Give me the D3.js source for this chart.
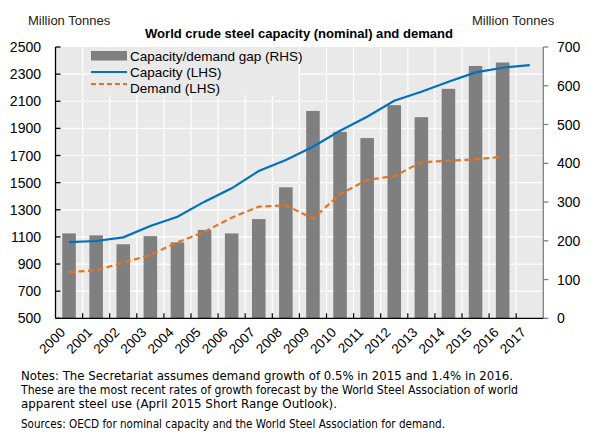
<!DOCTYPE html>
<html><head><meta charset="utf-8">
<script src="https://cdn.jsdelivr.net/npm/d3@7"></script>
<style>body{margin:0;background:#fff}svg{display:block}</style>
</head><body><svg id="c" width="594" height="441"></svg>
<script>
const years = ["2000","2001","2002","2003","2004","2005","2006","2007","2008","2009","2010","2011","2012","2013","2014","2015","2016","2017"];
const gap = [219,214,191,212,196,228,219,256,338,535,481,465,550,519,592,651,660,null];
const capacity = [1062,1070,1097,1180,1249,1360,1458,1586,1667,1765,1883,1986,2104,2170,2244,2313,2347,2367];
const demand = [841,854,910,967,1060,1138,1242,1323,1333,1235,1415,1520,1549,1650,1662,1672,1691,null];
const leftTicks = [500,700,900,1100,1300,1500,1700,1900,2100,2300,2500];
const rightTicks = [0,100,200,300,400,500,600,700];
const title = "World crude steel capacity (nominal) and demand";
const unitLabel = "Million Tonnes";
const legendLabels = ["Capacity/demand gap (RHS)","Capacity (LHS)","Demand (LHS)"];
const notes = ["Notes: The Secretariat assumes demand growth of 0.5% in 2015 and 1.4% in 2016.",
 "These are the most recent rates of growth forecast by the World Steel Association of world",
 "apparent steel use (April 2015 Short Range Outlook)."];
const sources = "Sources: OECD for nominal capacity and the World Steel Association for demand.";

const svg = d3.select("#c");
const L = 55.5, R = 543.3, T = 47, B = 318.3;
const x = d3.scaleBand().domain(years).range([L, R]).paddingInner(0.5).paddingOuter(0.25);
const yL = d3.scaleLinear().domain([500, 2500]).range([B, T]);
const yR = d3.scaleLinear().domain([0, 700]).range([B, T]);
const FONT = "Liberation Sans, Arial, sans-serif";
const cx = y => x(y) + x.bandwidth() / 2;
const boundary = i => L + i * x.step();

// plot background
svg.append("rect").attr("x", L).attr("y", T).attr("width", R - L).attr("height", B - T).attr("fill", "#e9e9e9");

// gridlines
const g = svg.append("g").attr("stroke", "#fff").attr("stroke-width", 1.2);
leftTicks.slice(1, -1).forEach(v => g.append("line").attr("x1", L).attr("x2", R).attr("y1", yL(v)).attr("y2", yL(v)));
d3.range(1, years.length).forEach(i => g.append("line").attr("x1", boundary(i)).attr("x2", boundary(i)).attr("y1", T).attr("y2", B));

// bars
svg.append("g").selectAll("rect").data(years.map((y, i) => ({y, v: gap[i]})).filter(d => d.v != null))
  .join("rect").attr("x", d => x(d.y)).attr("width", x.bandwidth())
  .attr("y", d => yR(d.v)).attr("height", d => yR(0) - yR(d.v)).attr("fill", "#7f7f7f");

// lines
const capLine = d3.line().x((d, i) => cx(years[i])).y(d => yL(d)).defined(d => d != null);
svg.append("path").datum(capacity).attr("d", capLine).attr("fill", "none").attr("stroke", "#0070c0").attr("stroke-width", 2.2);
svg.append("path").datum(demand).attr("d", capLine).attr("fill", "none").attr("stroke", "#e8741e").attr("stroke-width", 2.2).attr("stroke-dasharray", "6,3.5");

// legend
svg.append("rect").attr("x", 90).attr("y", T + 0.5).attr("width", 208).attr("height", 47.5).attr("fill", "#e9e9e9");
const lg = svg.append("g").attr("font-family", FONT).attr("font-size", 13.5).attr("fill", "#000");
lg.append("rect").attr("x", 91).attr("y", 51).attr("width", 36).attr("height", 9.5).attr("fill", "#7f7f7f");
lg.append("line").attr("x1", 91).attr("x2", 127).attr("y1", 72).attr("y2", 72).attr("stroke", "#0070c0").attr("stroke-width", 2.2);
lg.append("line").attr("x1", 91).attr("x2", 127).attr("y1", 84).attr("y2", 84).attr("stroke", "#e8741e").attr("stroke-width", 2).attr("stroke-dasharray", "5,3");
legendLabels.forEach((t, i) => lg.append("text").attr("x", 130).attr("y", 60.5 + i * 16.2).text(t));

// left axis
const ax = svg.append("g").attr("font-family", FONT).attr("font-size", 14);
ax.append("line").attr("x1", L).attr("x2", L).attr("y1", T).attr("y2", B).attr("stroke", "#000").attr("stroke-width", 1.3);
leftTicks.forEach(v => {
  ax.append("line").attr("x1", L).attr("x2", L + 5).attr("y1", yL(v)).attr("y2", yL(v)).attr("stroke", "#000").attr("stroke-width", 1.3);
  ax.append("text").attr("x", 41).attr("y", yL(v) + 5).attr("text-anchor", "end").text(v);
});
// right axis
ax.append("line").attr("x1", R).attr("x2", R).attr("y1", T).attr("y2", B).attr("stroke", "#808080").attr("stroke-width", 1.3);
rightTicks.forEach(v => {
  ax.append("line").attr("x1", R).attr("x2", R + 5).attr("y1", yR(v)).attr("y2", yR(v)).attr("stroke", "#808080").attr("stroke-width", 1.3);
  ax.append("text").attr("x", 557).attr("y", yR(v) + 5).attr("text-anchor", "start").text(v);
});
// bottom axis
ax.append("line").attr("x1", L).attr("x2", R).attr("y1", B).attr("y2", B).attr("stroke", "#000").attr("stroke-width", 1.3);
d3.range(1, years.length).forEach(i => ax.append("line").attr("x1", boundary(i)).attr("x2", boundary(i)).attr("y1", B).attr("y2", B - 5).attr("stroke", "#000").attr("stroke-width", 1.2));
years.forEach(y => ax.append("text").attr("font-size", 13.5).attr("text-anchor", "end")
  .attr("transform", `translate(${cx(y) - 3},${B + 15}) rotate(-45)`).text(y));

// titles
svg.append("text").attr("x", 299).attr("y", 37.5).attr("text-anchor", "middle").attr("font-family", FONT)
  .attr("font-weight", "bold").attr("font-size", 13.5).attr("textLength", 308).attr("lengthAdjust", "spacingAndGlyphs").text(title);
svg.append("text").attr("x", 28).attr("y", 24.5).attr("font-family", FONT).attr("font-size", 13).attr("fill", "#222").text(unitLabel);
svg.append("text").attr("x", 472).attr("y", 24.5).attr("font-family", FONT).attr("font-size", 13).attr("fill", "#222").text(unitLabel);

// notes
const NF = "DejaVu Sans Condensed, DejaVu Sans, Verdana, sans-serif";
const nw = [492, 497, 316];
notes.forEach((t, i) => svg.append("text").attr("x", 21).attr("y", 379.5 + i * 14.2).attr("font-family", NF).attr("font-size", 12.3)
  .attr("textLength", nw[i]).attr("lengthAdjust", "spacingAndGlyphs").text(t));
svg.append("text").attr("x", 21).attr("y", 428).attr("font-family", NF).attr("font-size", 12.3)
  .attr("textLength", 424).attr("lengthAdjust", "spacingAndGlyphs").text(sources);
</script></body></html>
